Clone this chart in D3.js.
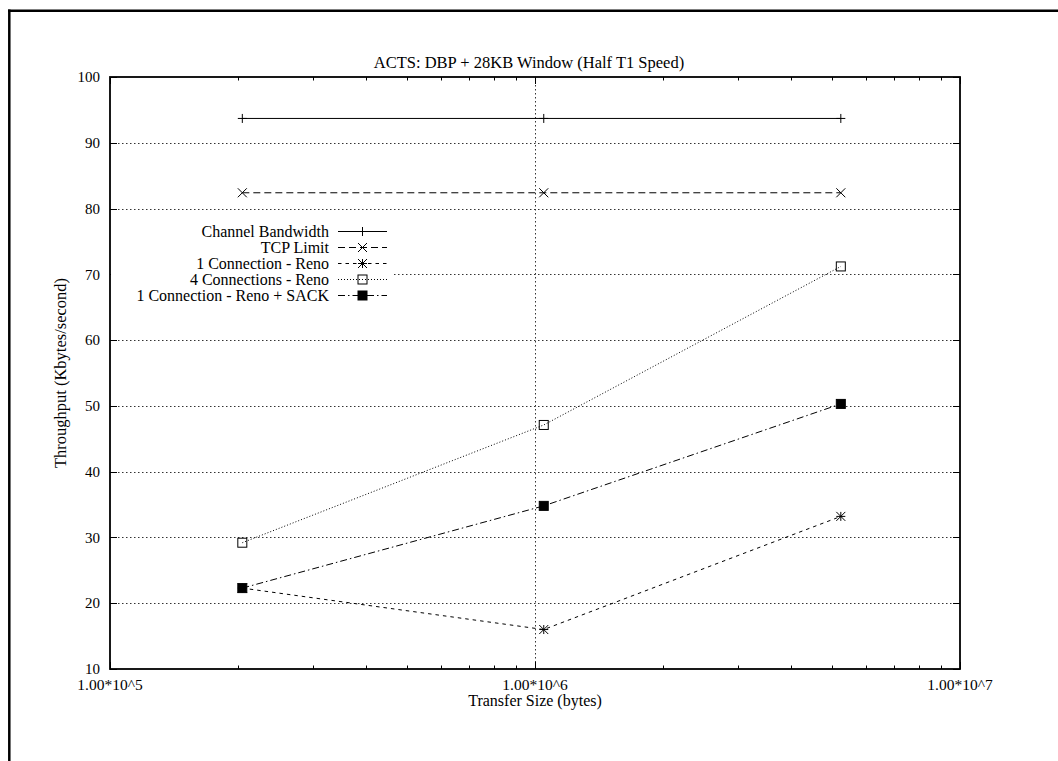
<!DOCTYPE html>
<html><head><meta charset="utf-8">
<script src="https://cdn.jsdelivr.net/npm/d3@7"></script>
<style>body{margin:0;background:#fff}svg{display:block}text{font-family:"Liberation Serif","DejaVu Serif",serif;fill:#000}</style>
</head><body><svg id="c" width="1058" height="761"></svg>
<script>
const title = "ACTS: DBP + 28KB Window (Half T1 Speed)";
const xLabel = "Transfer Size (bytes)";
const yLabel = "Throughput (Kbytes/second)";
const transferSizes = [204800, 1048576, 5242880];
const seriesNames = ["Channel Bandwidth","TCP Limit","1 Connection - Reno","4 Connections - Reno","1 Connection - Reno + SACK"];
const channelBandwidth = [93.7, 93.7, 93.7];
const tcpLimit = [82.4, 82.4, 82.4];
const oneConnReno = [22.3, 16.0, 33.2];
const fourConnReno = [29.2, 47.1, 71.2];
const oneConnSack = [22.3, 34.8, 50.3];
const yTicks = [10,20,30,40,50,60,70,80,90,100];
const xMajorTicks = [1e5, 1e6, 1e7];
const xTickLabels = ["1.00*10^5","1.00*10^6","1.00*10^7"];

const svg = d3.select("#c");
const L=110,R=960,T=77,B=669;
const x = d3.scaleLog().domain([1e5,1e7]).range([L,R]);
const y = d3.scaleLinear().domain([10,100]).range([B,T]);

// outer frame
svg.append("line").attr("x1",8).attr("x2",1058).attr("y1",10.7).attr("y2",10.7).attr("stroke","#000").attr("stroke-width",2.5);
svg.append("line").attr("x1",9.3).attr("x2",9.3).attr("y1",9.5).attr("y2",761).attr("stroke","#000").attr("stroke-width",2.5);

// grid
const grid = svg.append("g").attr("stroke","#333").attr("stroke-width",1).attr("stroke-dasharray","1.5 2.5");
yTicks.filter(v=>v>10&&v<100).forEach(v=>{
  grid.append("line").attr("x1",L).attr("x2",R).attr("y1",Math.round(y(v))+0.5).attr("y2",Math.round(y(v))+0.5);
});
grid.append("line").attr("x1",Math.round(x(1e6))+0.5).attr("x2",Math.round(x(1e6))+0.5).attr("y1",T).attr("y2",B);

// ticks
const tk = svg.append("g").attr("stroke","#000").attr("stroke-width",1);
yTicks.forEach(v=>{
  const yy=Math.round(y(v))+0.5;
  tk.append("line").attr("x1",L).attr("x2",L+7).attr("y1",yy).attr("y2",yy);
  tk.append("line").attr("x1",R).attr("x2",R-7).attr("y1",yy).attr("y2",yy);
});
const minor=[];
[1e5,1e6].forEach(d=>{for(let k=2;k<=9;k++)minor.push(d*k);});
minor.forEach(v=>{
  const xx=Math.round(x(v))+0.5;
  tk.append("line").attr("x1",xx).attr("x2",xx).attr("y1",B).attr("y2",B-3.5);
  tk.append("line").attr("x1",xx).attr("x2",xx).attr("y1",T).attr("y2",T+3.5);
});
xMajorTicks.forEach(v=>{
  const xx=Math.round(x(v))+0.5;
  tk.append("line").attr("x1",xx).attr("x2",xx).attr("y1",B).attr("y2",B-7);
  tk.append("line").attr("x1",xx).attr("x2",xx).attr("y1",T).attr("y2",T+7);
});

// tick labels
yTicks.forEach(v=>{
  svg.append("text").attr("x",100).attr("y",y(v)).attr("dy","0.35em").attr("text-anchor","end").attr("font-size",15).text(v);
});
xMajorTicks.forEach((v,i)=>{
  svg.append("text").attr("x",x(v)).attr("y",690).attr("text-anchor","middle").attr("font-size",15.5).text(xTickLabels[i]);
});
svg.append("text").attr("x",535).attr("y",706).attr("text-anchor","middle").attr("font-size",16).text(xLabel);
svg.append("text").attr("transform","translate(66,373) rotate(-90)").attr("text-anchor","middle").attr("font-size",16.5).text(yLabel);
svg.append("text").attr("x",529).attr("y",68).attr("text-anchor","middle").attr("font-size",16.5).text(title);

// markers
const S=4.5;
const markers = {
  plus: g=>g.append("path").attr("d",`M${-S},0H${S}M0,${-S}V${S}`).attr("fill","none").attr("stroke","#000"),
  cross: g=>g.append("path").attr("d",`M${-S},${-S}L${S},${S}M${-S},${S}L${S},${-S}`).attr("fill","none").attr("stroke","#000"),
  star: g=>g.append("path").attr("d",`M${-S},0H${S}M0,${-S}V${S}M${-S},${-S}L${S},${S}M${-S},${S}L${S},${-S}`).attr("fill","none").attr("stroke","#000"),
  box: g=>g.append("rect").attr("x",-S).attr("y",-S).attr("width",2*S).attr("height",2*S).attr("fill","none").attr("stroke","#000"),
  fbox: g=>g.append("rect").attr("x",-S).attr("y",-S).attr("width",2*S).attr("height",2*S).attr("fill","#000").attr("stroke","#000")
};
const series = [
  {name:seriesNames[0], vals:channelBandwidth, dash:null, m:"plus"},
  {name:seriesNames[1], vals:tcpLimit, dash:"7 4", m:"cross"},
  {name:seriesNames[2], vals:oneConnReno, dash:"3.5 4", m:"star"},
  {name:seriesNames[3], vals:fourConnReno, dash:"1 2", m:"box"},
  {name:seriesNames[4], vals:oneConnSack, dash:"7 3 1.5 3", m:"fbox"}
];
const line = d3.line().x(d=>x(d[0])).y(d=>y(d[1]));

// legend background
svg.append("rect").attr("x",L+1).attr("y",222).attr("width",282).attr("height",82).attr("fill","#fff");

series.forEach(s=>{
  const pts = transferSizes.map((t,i)=>[t,s.vals[i]]);
  const p = svg.append("path").datum(pts).attr("d",line).attr("fill","none").attr("stroke","#000").attr("stroke-width",1);
  if(s.dash) p.attr("stroke-dasharray",s.dash);
  pts.forEach(d=>{
    const g=svg.append("g").attr("transform",`translate(${x(d[0])},${y(d[1])})`);
    markers[s.m](g);
  });
});

// legend
series.forEach((s,i)=>{
  const ly = 231 + 16*i;
  svg.append("text").attr("x",329).attr("y",ly).attr("dy","0.35em").attr("text-anchor","end").attr("font-size",16).text(s.name);
  const l = svg.append("line").attr("x1",338).attr("x2",387).attr("y1",ly+0.5).attr("y2",ly+0.5).attr("stroke","#000").attr("stroke-width",1);
  if(s.dash) l.attr("stroke-dasharray",s.dash);
  const g=svg.append("g").attr("transform",`translate(362.5,${ly+0.5})`);
  markers[s.m](g);
});

// plot border
svg.append("rect").attr("x",L).attr("y",T).attr("width",R-L).attr("height",B-T).attr("fill","none").attr("stroke","#000").attr("stroke-width",1.8);
</script></body></html>
